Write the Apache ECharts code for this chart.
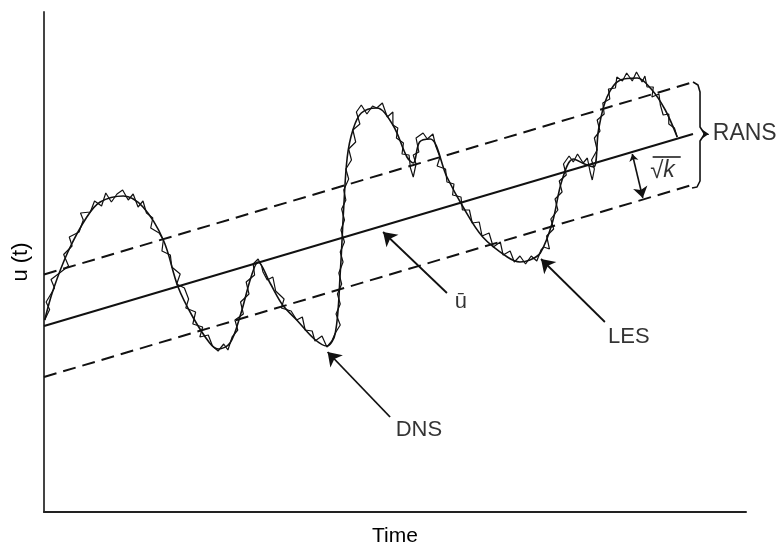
<!DOCTYPE html>
<html>
<head>
<meta charset="utf-8">
<script src="https://cdn.jsdelivr.net/npm/echarts@6/dist/echarts.min.js"></script>
<style>
  html, body { margin: 0; padding: 0; background: #fff; }
  #chart { width: 779px; height: 548px; }
</style>
</head>
<body>
<div id="chart"></div>
<script>
// Time axis runs 0..100, velocity u(t) runs 0..100 (arbitrary units).

// Resolved large-scale signal (LES)
const lesCurve = [
  [0.1,38.4],[1.3,44.4],[3.4,52.0],[6.1,59.0],[8.0,62.0],[11.3,63.2],[14.1,61.0],
  [17.0,54.4],[19.1,45.0],[21.2,39.0],[23.6,33.8],[24.8,32.6],[26.5,33.8],[28.0,39.5],
  [29.5,47.0],[30.5,50.0],[32.2,45.8],[34.0,41.4],[36.0,38.4],[38.5,34.6],[40.3,33.2],
  [41.5,35.8],[42.2,47.8],[42.7,61.0],[43.2,71.0],[44.0,76.4],[45.2,79.8],[47.4,80.8],
  [49.7,77.4],[51.7,71.0],[52.6,69.8],[53.5,74.0],[55.0,74.6],[57.4,67.0],[59.7,61.0],
  [62.5,55.0],[66.0,51.0],[67.8,50.0],[69.2,50.4],[70.7,51.8],[72.4,57.8],[73.8,66.4],
  [75.4,70.6],[77.0,69.6],[78.3,69.0],[79.0,76.5],[80.2,83.0],[82.1,86.4],[84.5,86.8],
  [86.5,84.6],[88.5,80.4],[90.2,75.0]
];

// Fully resolved signal (DNS) with its small-scale fluctuations
const dnsCurve = [
  [0.1,38.4],[0.8,40.5],[0.3,42.0],[1.5,44.8],[1.0,46.5],[2.4,48.0],[3.5,49.2],[2.8,51.5],
  [4.0,53.2],[3.6,55.0],[5.0,56.0],[5.6,58.4],[5.2,59.8],[6.6,60.0],[7.2,62.2],[8.2,61.2],
  [8.8,63.8],[9.6,62.0],[10.4,63.6],[11.2,64.4],[12.0,62.4],[12.7,63.6],[13.4,61.0],[14.1,62.2],
  [14.6,59.8],[15.5,58.8],[15.2,56.8],[16.4,55.8],[17.0,54.4],[16.8,52.2],[18.0,51.4],[18.2,49.0],
  [19.4,47.6],[18.9,45.6],[20.0,44.8],[20.6,42.6],[20.2,40.8],[21.6,40.0],[21.2,37.6],[22.6,37.0],
  [22.2,35.0],[23.4,35.4],[24.0,33.2],[24.8,32.2],[25.6,33.6],[26.2,32.4],[26.8,35.0],
  [27.6,36.4],[27.2,38.4],[28.4,39.6],[28.0,42.0],[29.2,43.6],[28.8,46.0],[30.0,47.4],
  [29.8,49.6],[30.5,50.6],[31.0,49.2],
  [31.2,48.0],[31.8,46.4],[32.6,47.0],[33.0,44.2],[34.2,42.6],[33.8,40.8],[35.2,40.2],[36.0,38.4],
  [36.8,39.0],[37.2,36.4],[38.2,36.2],[38.6,34.2],[39.6,35.2],[40.3,33.0],[41.0,34.2],[41.5,35.8],
  [42.2,37.4],[41.6,39.6],[42.2,41.6],[41.8,43.6],[42.4,45.6],[42.0,47.8],[42.6,50.0],[42.2,52.0],
  [42.8,54.0],[42.3,56.4],[42.8,58.4],[42.4,60.6],[43.0,62.4],[42.7,64.4],[43.4,66.6],[43.0,68.6],
  [43.8,70.4],[43.4,72.6],[44.4,74.0],[44.0,76.4],[45.0,77.6],[44.5,80.0],
  [45.2,81.4],[46.0,79.6],[46.8,81.2],[47.4,80.8],[48.2,81.8],[48.9,79.0],[49.7,80.0],
  [49.7,77.4],[50.4,76.8],[50.2,74.8],[51.2,73.8],[51.0,71.6],[52.0,71.4],[52.2,68.8],[52.6,67.0],
  [53.0,69.6],[52.6,71.4],[53.4,72.0],[53.0,74.8],[54.0,75.8],[54.6,74.6],[55.4,75.6],[55.8,73.2],
  [56.4,71.0],[56.0,69.2],[57.2,68.6],[57.4,66.0],[58.4,65.6],[58.2,63.4],[59.4,63.0],[59.6,60.4],
  [60.6,60.4],[61.0,57.8],[62.0,58.0],[62.4,55.2],[63.4,55.8],[64.0,53.0],[65.0,54.0],[65.4,51.4],
  [66.4,52.2],[67.0,50.0],[67.8,51.2],[68.6,49.6],[69.4,51.2],[70.2,50.2],[70.8,52.4],
  [71.2,53.0],[72.0,52.6],[71.6,55.2],[72.6,56.6],[72.2,58.6],[73.2,60.4],[72.8,62.6],[73.8,64.0],
  [73.4,66.2],[74.4,67.4],[74.0,69.6],[74.8,71.2],[75.4,70.0],[76.0,71.6],[76.8,69.8],[77.4,70.8],
  [77.8,68.0],[78.1,66.4],[78.4,68.6],[78.0,70.4],[78.8,72.4],[78.4,74.8],[79.2,76.2],[78.8,78.4],
  [79.8,79.6],[79.6,81.8],[80.6,82.6],[80.4,84.6],[81.4,84.8],[81.6,87.0],[82.4,86.2],[83.0,87.8],
  [83.8,86.2],[84.4,88.0],[85.2,86.0],[85.6,87.2],[85.9,85.0],[86.8,85.0],[86.6,83.0],[87.6,83.6],
  [87.8,81.4],[88.2,79.4],[89.0,79.6],[89.0,77.6],[89.8,76.8],[90.2,75.0]
];

// Time-averaged velocity and the +/- sqrt(k) envelope (RANS)
const meanLine  = [[0, 37.2], [92.45, 75.6]];
const upperLine = [[0, 47.5], [92.3, 85.9]];
const lowerLine = [[0, 27.0], [92.3, 65.4]];

// Curly bracket grouping the RANS envelope
const braceLine = [
  [92.45,86.0],[93.16,85.4],[93.45,84.0],[93.45,77.0],[94.1,75.6],
  [93.45,74.2],[93.45,66.2],[93.02,65.0],[92.31,64.8]
];

// Annotation arrows: [from, to]
const pointerArrows = [
  [[49.3, 19.0], [40.4, 32.0]],   // DNS
  [[57.4, 43.8], [48.3, 56.0]],   // u-bar
  [[79.9, 38.0], [70.8, 50.6]]    // LES
];
const kArrow = [[83.8, 71.6], [85.3, 62.8]];
const braceTip = [[93.9, 75.6], [94.7, 75.6]];
const rootBar = [[86.7, 71.0], [90.7, 71.0]];

// Text labels
const labelPoints = [
  { name: 'DNS',  value: [53.4, 16.4] },
  { name: 'ū',    value: [59.4, 42.0] },
  { name: 'LES',  value: [83.3, 35.0] }
];
const ransLabel = { name: 'RANS', value: [95.2, 75.6] };
const kLabel = { name: 'k', value: [88.1, 68.2] };

const ink = '#000000';
const font = 'Liberation Sans, Arial, Helvetica, sans-serif';

const chart = echarts.init(document.getElementById('chart'), null, { renderer: 'canvas' });

const seg = (pts, style) => ({
  type: 'line', data: pts, symbol: 'none', silent: true,
  lineStyle: Object.assign({ color: '#111', width: 2 }, style), z: 3
});

chart.setOption({
  animation: false,
  backgroundColor: '#ffffff',
  grid: { left: 44, right: 33, top: 12, bottom: 36, containLabel: false, outerBoundsMode: 'none' },
  xAxis: {
    type: 'value', min: 0, max: 100,
    name: 'Time', nameLocation: 'middle', nameGap: 14,
    nameTextStyle: { fontFamily: font, fontSize: 21, color: ink },
    axisLine: { show: true, onZero: false, lineStyle: { color: '#222', width: 2 } },
    axisTick: { show: false }, axisLabel: { show: false }, splitLine: { show: false }
  },
  yAxis: {
    type: 'value', min: 0, max: 100,
    name: 'u (t)', nameLocation: 'middle', nameGap: 12,
    nameTextStyle: { fontFamily: font, fontSize: 22, color: ink },
    axisLine: { show: true, onZero: false, lineStyle: { color: '#444', width: 2 } },
    axisTick: { show: false }, axisLabel: { show: false }, splitLine: { show: false }
  },
  series: [
    seg(meanLine, { width: 2 }),
    seg(upperLine, { width: 2, type: [13, 7] }),
    seg(lowerLine, { width: 2, type: [13, 7] }),
    seg(braceLine, { width: 1.6 }),
    seg(rootBar, { width: 1.6 }),
    Object.assign(seg(lesCurve, { width: 1.6 }), { smooth: 0.35 }),
    seg(dnsCurve, { width: 1.2 }),
    {
      type: 'lines', coordinateSystem: 'cartesian2d', silent: true, z: 4,
      symbol: ['none', 'arrow'], symbolSize: [8, 13],
      lineStyle: { color: '#111', width: 1.8, opacity: 1 },
      data: pointerArrows.map(a => ({ coords: a }))
    },
    {
      type: 'lines', coordinateSystem: 'cartesian2d', silent: true, z: 4,
      symbol: ['arrow', 'arrow'], symbolSize: [7, 11],
      lineStyle: { color: '#111', width: 1.6, opacity: 1 },
      data: [{ coords: kArrow }]
    },
    {
      type: 'lines', coordinateSystem: 'cartesian2d', silent: true, z: 4,
      symbol: ['none', 'arrow'], symbolSize: 7,
      lineStyle: { color: '#111', width: 1.2, opacity: 1 },
      data: [{ coords: braceTip }]
    },
    {
      type: 'scatter', silent: true, symbolSize: 1, z: 5,
      itemStyle: { color: 'rgba(0,0,0,0)' },
      label: { show: true, position: 'inside', formatter: p => p.name,
        fontFamily: font, fontSize: 22, color: ink },
      data: labelPoints
    },
    {
      type: 'scatter', silent: true, symbolSize: 1, z: 5,
      itemStyle: { color: 'rgba(0,0,0,0)' },
      label: { show: true, position: 'right', distance: 0, formatter: p => p.name,
        fontFamily: font, fontSize: 23, color: ink },
      data: [ransLabel]
    },
    {
      type: 'scatter', silent: true, symbolSize: 1, z: 5,
      itemStyle: { color: 'rgba(0,0,0,0)' },
      label: { show: true, position: 'inside', formatter: '{r|√}{k|k}',
        rich: {
          r: { fontFamily: font, fontSize: 24, color: ink },
          k: { fontFamily: font, fontSize: 23, fontStyle: 'italic', color: ink }
        } },
      data: [kLabel]
    }
  ]
});
</script>
</body>
</html>
